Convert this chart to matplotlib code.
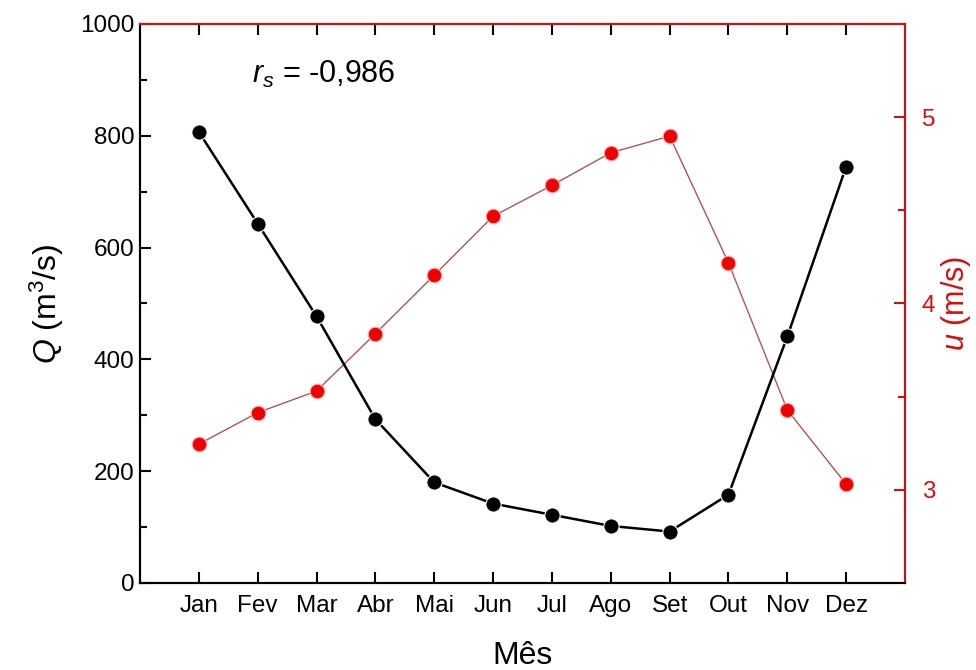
import numpy as np
import matplotlib.pyplot as plt

plt.rcParams['font.family'] = ['Liberation Sans', 'DejaVu Sans']
plt.rcParams['mathtext.fontset'] = 'custom'
plt.rcParams['mathtext.it'] = 'Liberation Sans:italic'
plt.rcParams['mathtext.rm'] = 'Liberation Sans'

meses = ['Jan', 'Fev', 'Mar', 'Abr', 'Mai', 'Jun', 'Jul', 'Ago', 'Set', 'Out', 'Nov', 'Dez']
vazao = [807, 643, 477, 293, 180, 142, 122, 102, 92, 158, 441, 745]
vento = [3.245, 3.414, 3.53, 3.838, 4.152, 4.468, 4.634, 4.809, 4.898, 4.218, 3.428, 3.03]

red = '#d01010'
x = np.arange(1, len(meses) + 1)

fig = plt.figure(figsize=(9.76, 6.70), dpi=100)
ax = fig.add_axes([0.1434, 0.1299, 0.7839, 0.8343])
ax2 = ax.twinx()

ax2.plot(x, vento, '-', color='#a85858', lw=1.0, zorder=2)
ax2.plot(x, vento, 'o', color='#ee0000', ms=10.5, mec='#f7b0b0', mew=0.8, zorder=3)
ax.plot(x, vazao, '-', color='black', lw=1.8, zorder=2)
ax.plot(x, vazao, 'o', color='black', ms=11, mec='white', mew=0.8, zorder=3)
# black series drawn above the red one
ax.set_zorder(ax2.get_zorder() + 1)
ax.patch.set_visible(False)

ax.set_xlim(0, 13)
ax.set_ylim(0, 1000)
ax2.set_ylim(2.5, 5.5)
ax.set_xticks(x)
ax.set_xticklabels(meses)
ax.set_yticks(np.arange(0, 1001, 200))
ax.set_yticks(np.arange(100, 1000, 200), minor=True)
ax2.set_yticks([3, 4, 5])
ax2.set_yticks([3.5, 4.5], minor=True)

ax.tick_params(axis='both', which='major', direction='in', length=8, width=1.5,
               labelsize=17.5, colors='black', pad=4)
ax.tick_params(axis='y', which='minor', direction='in', length=5, width=1.5)
ax.tick_params(axis='x', which='major', top=True, pad=9)
ax2.tick_params(axis='y', which='major', direction='in', length=8, width=1.5,
                labelsize=17.5, colors=red, pad=12)
ax2.tick_params(axis='y', which='minor', direction='in', length=5, width=1.5, colors=red)

for a in (ax, ax2):
    a.spines['left'].set_color('black')
    a.spines['bottom'].set_color('black')
    a.spines['top'].set_color(red)
    a.spines['right'].set_color(red)
    for s in a.spines.values():
        s.set_linewidth(1.5)

ax.set_ylabel(r'$Q$ (m$^3$/s)', fontsize=23, labelpad=10)
ax2.set_ylabel(r'$u$ (m/s)', fontsize=22, color=red, rotation=90, labelpad=3)
ax.set_xlabel('Mês', fontsize=23, labelpad=17)

ax.text(1.9, 910, r'$r_s$ = -0,986', fontsize=22, va='center')

fig.savefig('out.png', dpi=100)
